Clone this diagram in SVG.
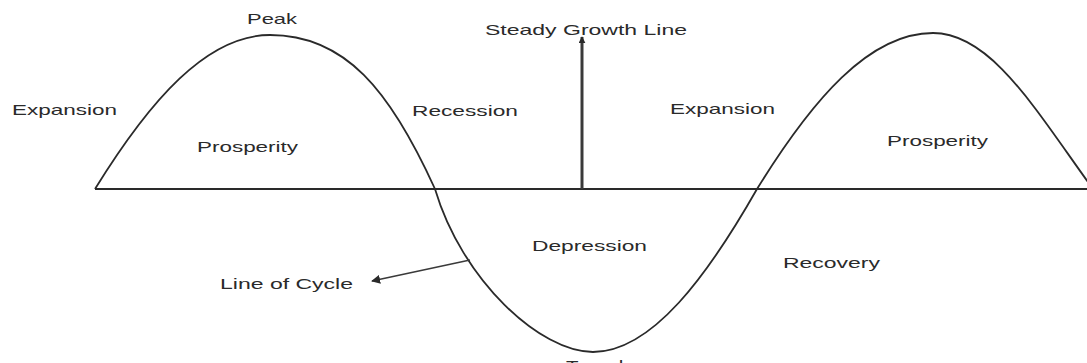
<svg xmlns="http://www.w3.org/2000/svg" width="1087" height="363" viewBox="0 0 1087 363">
<style>
.t{font-family:"Liberation Sans",Arial,sans-serif;font-size:14.5px;fill:#2a2a2a}
.ln{fill:none;stroke:#2a2a2a;stroke-width:1.8}
</style>
<defs>
<marker id="ah" viewBox="0 0 10 10" refX="9" refY="5" markerWidth="7" markerHeight="7" markerUnits="userSpaceOnUse" orient="auto">
<path d="M0,0 L10,5 L0,10 z" fill="#2a2a2a"/>
</marker>
<marker id="ah2" viewBox="0 0 10 10" refX="9" refY="5" markerWidth="9" markerHeight="9" markerUnits="userSpaceOnUse" orient="auto">
<path d="M0,0 L10,5 L0,10 z" fill="#2a2a2a"/>
</marker>
</defs>
<rect width="1087" height="363" fill="#ffffff"/>
<g id="connectors">
<path id="baseline" class="ln" d="M95,189 H1087"/>
<path id="cycle" class="ln" d="M95,189 C150,100 207,35 270,35 C345,35 390,90 435,189 C462,280 540,352 593,352 C652,352 708,275 757,189 C812,100 869,33 933,33 C991,33 1035,109 1093,189"/>
<line id="steady-growth-arrow" x1="582" y1="189" x2="582" y2="37" stroke="#3a3a3a" stroke-width="3" marker-end="url(#ah)"/>
<line id="line-of-cycle-arrow" x1="470" y1="260" x2="372" y2="281" stroke="#3a3a3a" stroke-width="1.5" marker-end="url(#ah2)"/>
</g>
<g id="peak"><text class="t" x="247" y="24" textLength="50" lengthAdjust="spacingAndGlyphs">Peak</text></g>
<g id="expansion-left"><text class="t" x="12" y="115" textLength="105" lengthAdjust="spacingAndGlyphs">Expansion</text></g>
<g id="prosperity-left"><text class="t" x="197" y="152" textLength="101" lengthAdjust="spacingAndGlyphs">Prosperity</text></g>
<g id="steady-growth-line"><text class="t" x="485" y="35" textLength="202" lengthAdjust="spacingAndGlyphs">Steady Growth Line</text></g>
<g id="recession"><text class="t" x="412" y="116" textLength="106" lengthAdjust="spacingAndGlyphs">Recession</text></g>
<g id="expansion-right"><text class="t" x="670" y="114" textLength="105" lengthAdjust="spacingAndGlyphs">Expansion</text></g>
<g id="prosperity-right"><text class="t" x="887" y="146" textLength="101" lengthAdjust="spacingAndGlyphs">Prosperity</text></g>
<g id="line-of-cycle"><text class="t" x="220" y="289" textLength="133" lengthAdjust="spacingAndGlyphs">Line of Cycle</text></g>
<g id="depression"><text class="t" x="532" y="251" textLength="115" lengthAdjust="spacingAndGlyphs">Depression</text></g>
<g id="recovery"><text class="t" x="783" y="268" textLength="97" lengthAdjust="spacingAndGlyphs">Recovery</text></g>
<g id="trough"><text class="t" x="566" y="371" textLength="64" lengthAdjust="spacingAndGlyphs">Trough</text></g>
</svg>
